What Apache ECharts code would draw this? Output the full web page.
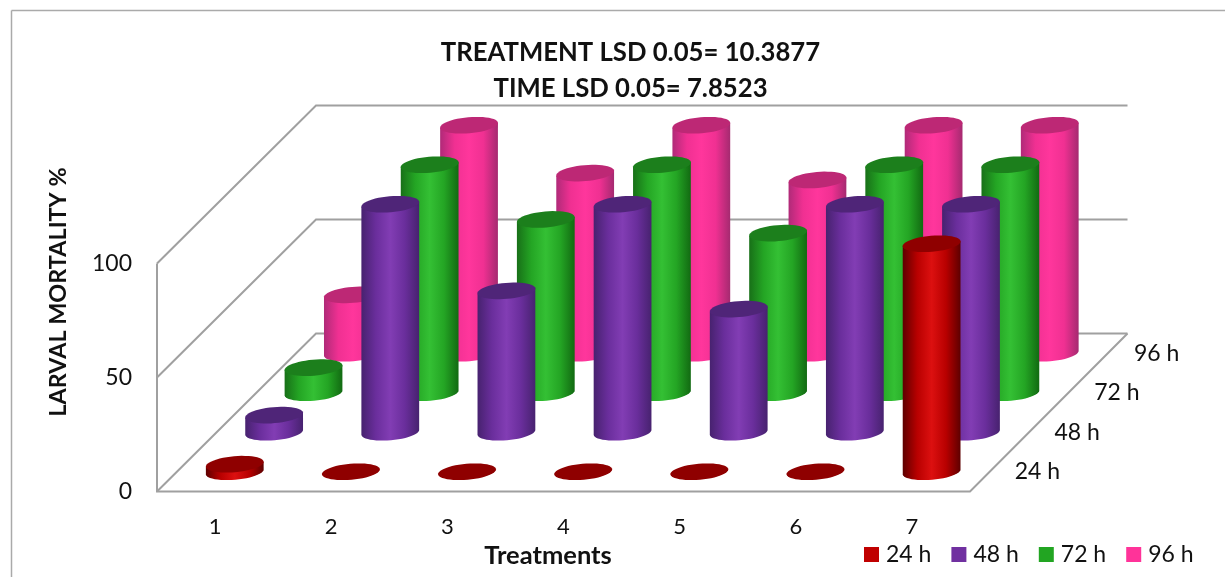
<!DOCTYPE html>
<html><head><meta charset="utf-8">
<style>html,body{margin:0;padding:0;background:#fff}#c{width:1225px;height:577px}</style>
<script src="https://cdn.jsdelivr.net/npm/echarts@6/dist/echarts.min.js"></script>
</head><body><div id="c"></div>
<script>
const treatments = ['1','2','3','4','5','6','7'];
const times = ['24 h','48 h','72 h','96 h'];
const v24 = [3.3,0,0,0,0,0,100];
const v48 = [7.5,100,62,100,54,100,100];
const v72 = [11,100,76,100,70,100,100];
const v96 = [25.6,100,79,100,76,100,100];
const yTicks = [0,50,100];
const titleText = 'TREATMENT LSD 0.05= 10.3877\nTIME LSD 0.05= 7.8523';
const xName = 'Treatments';
const yName = 'LARVAL MORTALITY %';

const FONT = 'Lato';
const DX = 157.5, DXL = 159, DY = 158, RX = 29, RY = 8, TILT = -5 * Math.PI / 180;
const styles = [
  {legend:'#c00000',top:'#8f0000',stops:['#5e0000','#b80000','#dc1010','#b80000','#5e0000']},
  {legend:'#7030a0',top:'#4f2578',stops:['#47226f','#6a2e9c','#823db4','#6a2e9c','#47226f']},
  {legend:'#22a522',top:'#1c7f1c',stops:['#187018','#24a524','#34c034','#24a524','#126a12']},
  {legend:'#ff3399',top:'#bd2875',stops:['#b02a78','#f03092','#ff369c','#f03092','#a52a70']}
];
function ept(cx,cy,t){
  const x=RX*Math.cos(t), y=RY*Math.sin(t);
  return [cx+x*Math.cos(TILT)-y*Math.sin(TILT), cy+x*Math.sin(TILT)+y*Math.cos(TILT)];
}
function ellipse(cx,cy){const p=[];for(let i=0;i<48;i++)p.push(ept(cx,cy,i/48*2*Math.PI));return p;}
function cyl(depth){
  const s=styles[depth];
  return function(params,api){
    const cat=api.value(0), val=api.value(1);
    const off=(depth+0.5)/times.length;
    const b=api.coord([cat,0]), t=api.coord([cat,val]);
    const bx=b[0]+off*DX, by=b[1]-off*DY, ty=t[1]-off*DY;
    const children=[];
    if(val>0){
      const pts=[];
      for(let i=0;i<=24;i++)pts.push(ept(bx,by,i/24*Math.PI));
      pts.push(ept(bx,ty,Math.PI));
      pts.push(ept(bx,ty,0));
      children.push({type:'polygon',shape:{points:pts},style:{fill:{type:'linear',x:0,y:0,x2:1,y2:0,
        colorStops:[{offset:0,color:s.stops[0]},{offset:0.25,color:s.stops[1]},{offset:0.5,color:s.stops[2]},{offset:0.75,color:s.stops[3]},{offset:1,color:s.stops[4]}]}}});
    }
    children.push({type:'polygon',shape:{points:ellipse(bx,ty)},style:{fill:s.top}});
    return {type:'group',children};
  };
}
const lineStyle={stroke:'#a0a0a0',lineWidth:2,fill:null};
function gridItem(params,api){
  const cs=params.coordSys, y=api.coord([0,api.value(0)])[1], l=cs.x, r=cs.x+cs.width;
  return {type:'polyline',shape:{points:[[l,y],[l+DXL,y-DY],[r+DX,y-DY]]},style:lineStyle};
}
function floorItem(params,api){
  const cs=params.coordSys, y=cs.y+cs.height, l=cs.x, r=cs.x+cs.width;
  return {type:'polyline',shape:{points:[[l,cs.y],[l,y],[r,y],[r+DX,y-DY]]},style:lineStyle};
}
function depthLabel(params,api){
  const cs=params.coordSys, i=api.value(0), off=(i+0.5)/times.length;
  return {type:'text',style:{x:cs.x+cs.width+off*DXL+47.5,y:cs.y+cs.height-off*DY,text:times[i],
    font:'23px '+FONT,fill:'#111',textAlign:'center',textVerticalAlign:'middle'}};
}
const cylSeries=[v24,v48,v72,v96].map((vals,d)=>({
  type:'custom',name:times[d],coordinateSystem:'cartesian2d',z:10-d,clip:false,silent:true,
  renderItem:cyl(d),itemStyle:{color:styles[d].legend},
  encode:{x:0,y:1},data:vals.map((v,i)=>[i,v])
}));
const chart=echarts.init(document.getElementById('c'),null,{renderer:'canvas'});
chart.setOption({
  animation:false,backgroundColor:'#fff',
  textStyle:{fontFamily:FONT},
  title:{text:titleText,left:625.5,top:30,textAlign:'center',
    textStyle:{fontFamily:FONT,fontWeight:'bold',fontSize:25.7,lineHeight:36,color:'#111'}},
  grid:{left:157,top:263.5,width:813,height:228},
  xAxis:{type:'category',data:treatments,axisLine:{show:false},axisTick:{show:false},splitLine:{show:false},
    axisLabel:{fontFamily:FONT,fontSize:22,color:'#111',margin:24}},
  yAxis:{type:'value',min:0,max:100,interval:50,axisLine:{show:false},axisTick:{show:false},splitLine:{show:false},
    axisLabel:{fontFamily:FONT,fontSize:23,color:'#111',margin:25}},
  legend:{data:times,left:859,top:538,icon:'rect',itemWidth:15,itemHeight:15,itemGap:20,selectedMode:false,
    textStyle:{fontFamily:FONT,fontSize:23,color:'#111',padding:[0,0,0,2]}},
  graphic:[
    {type:'line',shape:{x1:11.5,y1:10.5,x2:1225,y2:10.5},style:{stroke:'#aaa',lineWidth:1.5},silent:true},
    {type:'line',shape:{x1:11.5,y1:10.5,x2:11.5,y2:577},style:{stroke:'#aaa',lineWidth:1.5},silent:true},
    {type:'text',x:548,y:556,style:{text:xName,font:'bold 25.5px '+FONT,fill:'#111',textAlign:'center',textVerticalAlign:'middle'}},
    {type:'text',x:58,y:292,rotation:Math.PI/2,style:{text:yName,font:'bold 23.4px '+FONT,fill:'#111',textAlign:'center',textVerticalAlign:'middle'}}
  ],
  series:[
    {type:'custom',name:'grid',coordinateSystem:'cartesian2d',z:1,clip:false,silent:true,renderItem:gridItem,encode:{y:0},data:yTicks.map(v=>[v])},
    {type:'custom',name:'floor',coordinateSystem:'cartesian2d',z:2,clip:false,silent:true,renderItem:floorItem,data:[[0,0]],encode:{x:0,y:1}},
    {type:'custom',name:'depth',coordinateSystem:'cartesian2d',z:3,clip:false,silent:true,renderItem:depthLabel,data:times.map((t,i)=>[i]),encode:{}}
  ].concat(cylSeries)
});
</script></body></html>
